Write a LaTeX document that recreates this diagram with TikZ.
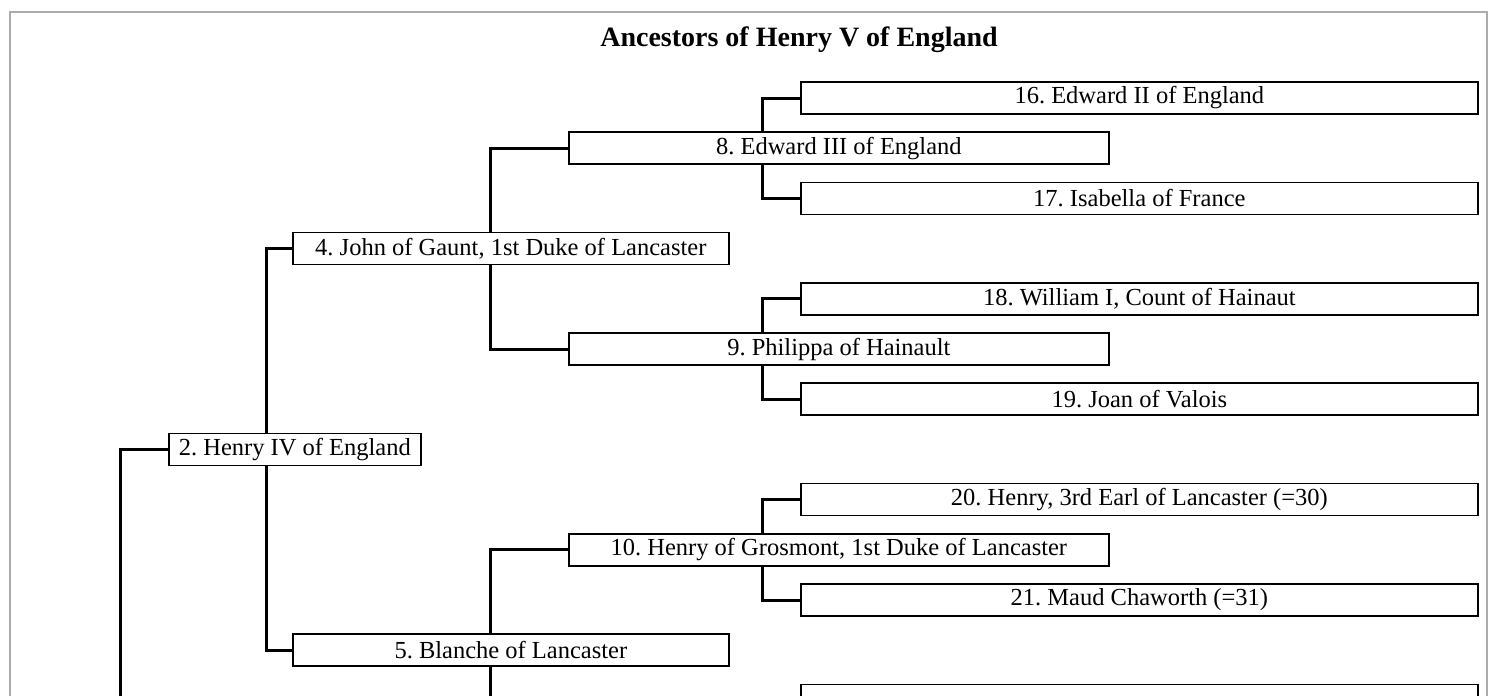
\documentclass[tikz,border=0pt]{standalone}
\usepackage{fontspec}
\setmainfont{Liberation Serif}
\frenchspacing
\tikzset{
	personnode/.style = {
		rectangle,
		align=center,
		inner sep=0pt,
		draw=black,
		fill=white,
		line width=1.7pt,
		minimum height=32pt,
		anchor=west,
		font=\fontsize{24.5}{28}\selectfont
	},
	node_l1/.style = {
		personnode,
		minimum width=252pt
	},
	node_l2/.style = {
		personnode,
		minimum width=436pt
	},
	node_l3/.style = {
		personnode,
		minimum width=540pt
	},
	node_l4/.style = {
		personnode,
		minimum width=677pt
	},
	node_heading/.style = {
		anchor=base,
		font=\bfseries\fontsize{28}{32}\selectfont
	},
	link/.style = {
		draw=black,
		line width=3pt
	},
}

\begin{document}
\begin{tikzpicture}[x=1pt, y=-1pt]
\useasboundingbox (0,0) rectangle (1494,696);
\clip (0,0) rectangle (1494,696);
\draw [gray!65, line width=2.6pt] (10,12) rectangle (1487,740);

\node [node_heading] (heading) at (799,46.7) {Ancestors of Henry V of England};

% generations
\node [node_l1] (p2) at (168,449.4) {2. Henry IV of England};
\node [node_l2] (p4) at (292,248.6) {4. John of Gaunt, 1st Duke of Lancaster};
\node [node_l2] (p5) at (292,650.2) {5. Blanche of Lancaster};
\node [node_l3] (p8) at (568,148.2) {8. Edward III of England};
\node [node_l3] (p9) at (568,349) {9. Philippa of Hainault};
\node [node_l3] (p10) at (568,549.8) {10. Henry of Grosmont, 1st Duke of Lancaster};
\node [node_l4] (p16) at (800,98) {16. Edward II of England};
\node [node_l4] (p17) at (800,198.4) {17. Isabella of France};
\node [node_l4] (p18) at (800,298.8) {18. William I, Count of Hainaut};
\node [node_l4] (p19) at (800,399.2) {19. Joan of Valois};
\node [node_l4] (p20) at (800,499.6) {20. Henry, 3rd Earl of Lancaster (=30)};
\node [node_l4] (p21) at (800,600) {21. Maud Chaworth (=31)};
\node [node_l4] (p22) at (800,700.4) {};

% trunk positions
\coordinate (t2) at (266,0);
\coordinate (t3) at (490,0);
\coordinate (t4) at (762,0);
\coordinate (down1) at (120,740);
\coordinate (down5) at (490,740);

\draw [link] (down1) |- (p2.west);
\draw [link] (p2.north -| t2) |- (p4.west);
\draw [link] (p2.south -| t2) |- (p5.west);
\draw [link] (p4.north -| t3) |- (p8.west);
\draw [link] (p4.south -| t3) |- (p9.west);
\draw [link] (p5.north -| t3) |- (p10.west);
\draw [link] (p5.south -| t3) -- (down5);
\draw [link] (p8.north -| t4) |- (p16.west);
\draw [link] (p8.south -| t4) |- (p17.west);
\draw [link] (p9.north -| t4) |- (p18.west);
\draw [link] (p9.south -| t4) |- (p19.west);
\draw [link] (p10.north -| t4) |- (p20.west);
\draw [link] (p10.south -| t4) |- (p21.west);
\end{tikzpicture}
\end{document}
